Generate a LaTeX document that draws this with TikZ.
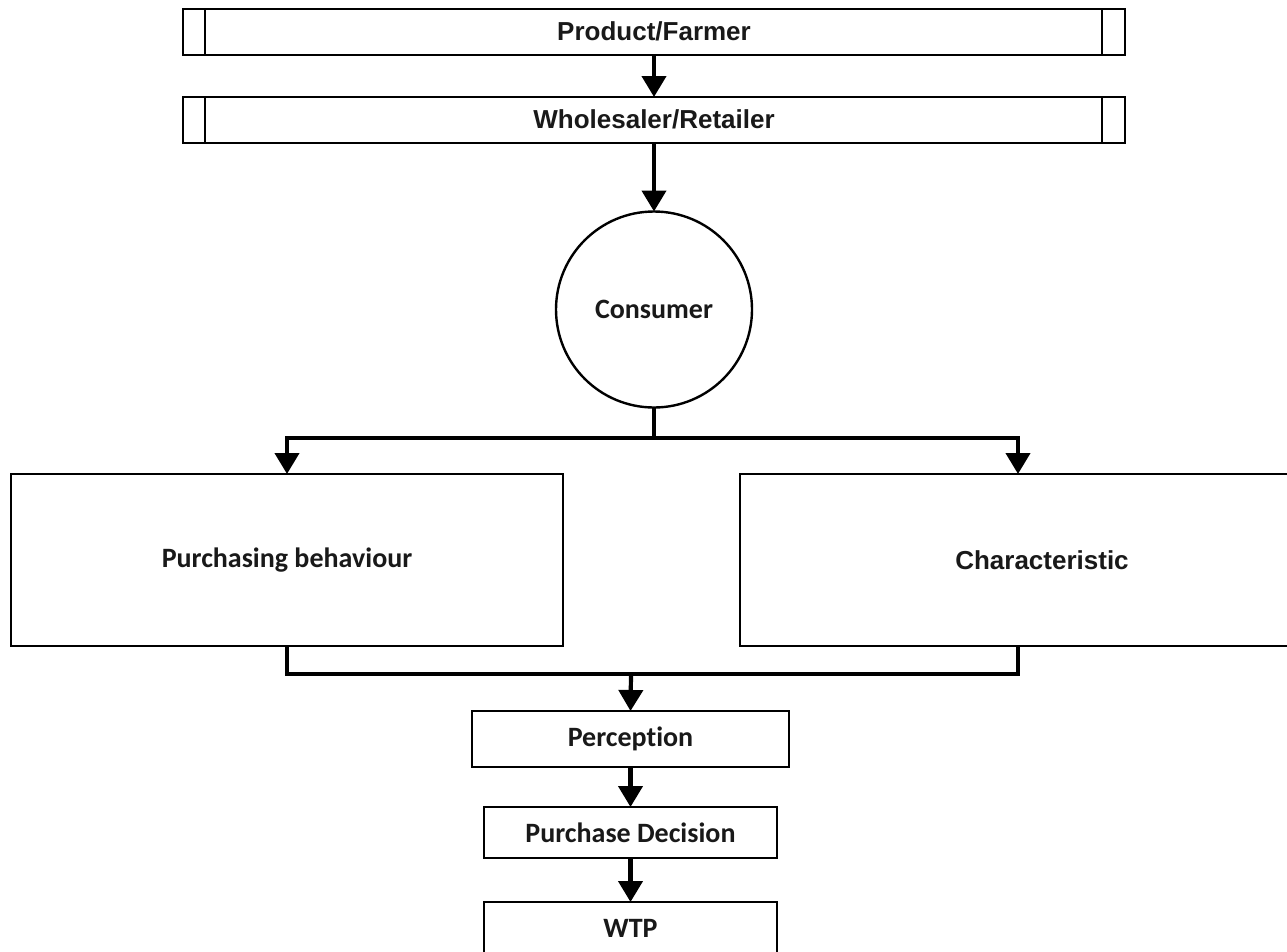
\documentclass[tikz,border=0pt]{standalone}
\usepackage{fontspec}
\newfontfamily\arialfont{Liberation Sans}
\newfontfamily\califont{Carlito}[Ligatures=CommonOff]
\usetikzlibrary{arrows.meta}
\begin{document}
\begin{tikzpicture}[x=1pt,y=-1pt,
  boxline/.style={draw=black,line width=2.7pt,rectangle,inner sep=0pt,outer sep=0pt},
  arialtxt/.style={font=\arialfont\bfseries\fontsize{26}{30}\selectfont,text=black!90},
  calitxt/.style={font=\califont\bfseries\fontsize{28}{32}\selectfont,text=black!90},
  conn/.style={draw=black,line width=4.2pt},
  arr/.style={conn,-{Triangle[width=24pt,length=21pt]}},
  ]
\useasboundingbox (0,0) rectangle (1287,951);
\clip (0,0) rectangle (1287,951);
\fill[white] (0,0) rectangle (1287,951);

% top bars
\node[boxline,arialtxt,minimum width=942pt,minimum height=46pt] (pf) at (654,32) {\raisebox{2pt}{Product/Farmer}};
\node[boxline,arialtxt,minimum width=942pt,minimum height=46pt] (ws) at (654,120) {\raisebox{2pt}{Wholesaler/Retailer}};
\foreach \n in {pf,ws}{
  \draw[line width=2.7pt] ([xshift=22pt]\n.north west) -- ([xshift=22pt]\n.south west);
  \draw[line width=2.7pt] ([xshift=-23pt]\n.north east) -- ([xshift=-23pt]\n.south east);
}

% consumer
\node[draw=black,line width=2.4pt,circle,minimum size=196pt,inner sep=0pt,outer sep=0pt,calitxt] (con) at (654,309.5) {Consumer};

% middle boxes
\node[boxline,calitxt,minimum width=552pt,minimum height=172pt] (pb) at (287,560) {Purchasing behaviour};
\node[boxline,arialtxt,minimum width=604pt,minimum height=172pt] (ch) at (1042,560) {Characteristic};
\coordinate (chin) at ([xshift=-24pt]ch.north);
\coordinate (chout) at ([xshift=-24pt]ch.south);
% bottom boxes
\node[boxline,calitxt,minimum width=317pt,minimum height=56pt] (per) at (630.5,739) {Perception};
\node[boxline,calitxt,minimum width=293pt,minimum height=51pt] (pd) at (630.5,832.5) {Purchase Decision};
\node[boxline,calitxt,minimum width=293pt,minimum height=52pt] (wtp) at (630.5,928) {WTP};

% connectors
\coordinate (split) at (654,438);
\coordinate (merge) at (631,674);
\draw[arr] (pf.south) -- (ws.north);
\draw[arr] (ws.south) -- (con.north);
\draw[conn] (con.south) -- (split);
\draw[arr] (split) -| (pb.north);
\draw[arr] (split) -| (chin);
\draw[conn] (pb.south) |- (merge);
\draw[conn] (chout) |- (merge);
\draw[arr] (merge) -- (per.north);
\draw[arr] (per.south) -- (pd.north);
\draw[arr] (pd.south) -- (wtp.north);
\end{tikzpicture}
\end{document}
